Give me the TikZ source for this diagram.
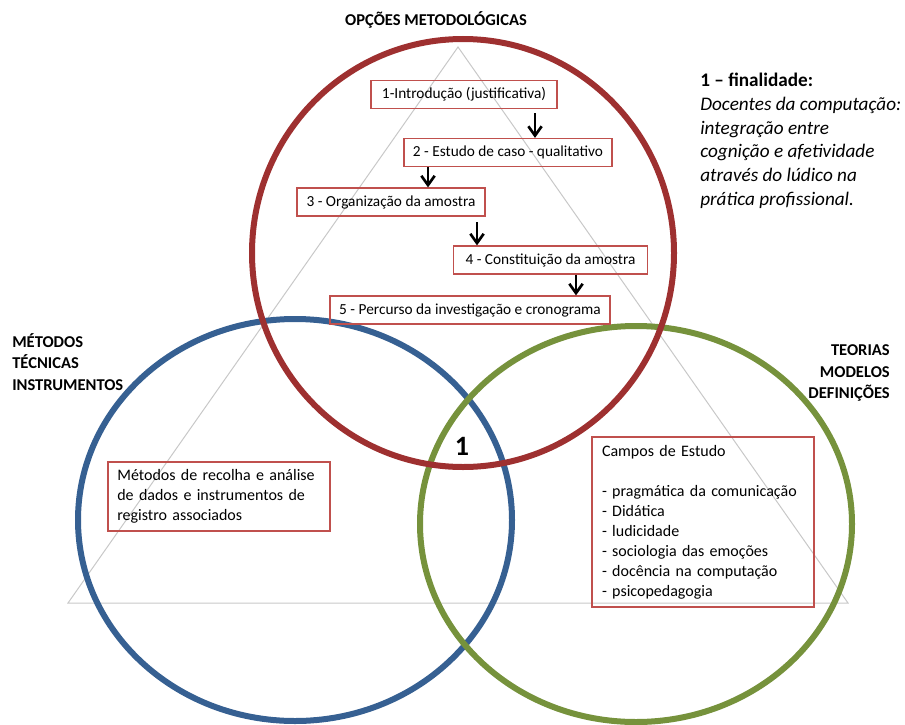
\documentclass[tikz,border=0pt]{standalone}
\usepackage{fontspec}
\setmainfont{Carlito}
\usetikzlibrary{arrows.meta}
\tikzset{
ring/.style={line width=4.5pt},
stepbox/.style={draw={rgb, 255:red, 192; green, 80; blue, 77 }, line width=0.9pt, inner sep=0pt, minimum height=21pt, font=\fontsize{11.5}{14}\selectfont},
infobox/.style={draw={rgb, 255:red, 192; green, 80; blue, 77 }, line width=0.9pt, inner ysep=0pt, align=left, font=\fontsize{12}{15}\selectfont},
flow/.style={line width=2pt, -{Straight Barb[length=7pt,width=10pt]}},
heading/.style={font=\bfseries\fontsize{12.4}{16}\selectfont, inner sep=0pt}
}
\begin{document}
\begin{tikzpicture}[x=0.75pt,y=0.75pt,yscale=-1,xscale=1]
\useasboundingbox (0,0) rectangle (905,724);

%Shape: Triangle
\draw [color={rgb, 255:red, 200; green, 200; blue, 200 }, line width=0.75] (458,47) -- (848,603) -- (68,603) -- cycle ;

%Shape: Circle (metodos)
\draw [ring, color={rgb, 255:red, 54; green, 96; blue, 146 }] (295,520) ellipse [x radius=217, y radius=201] ;
%Shape: Circle (teorias)
\draw [ring, color={rgb, 255:red, 118; green, 146; blue, 60 }] (636,524) ellipse [x radius=216, y radius=198] ;
%Shape: Circle (opcoes)
\draw [ring, color={rgb, 255:red, 158; green, 48; blue, 48 }] (463,253) ellipse [x radius=211, y radius=214] ;

%Steps
\node [stepbox, minimum width=139.5pt] (intro) at (464,94.5) {1-Introdução (justificativa)};
\node [stepbox, minimum width=156pt] (caso) at (508,152.5) {2 - Estudo de caso - qualitativo};
\node [stepbox, minimum width=141pt] (organiza) at (391,202) {3 - Organização da amostra};
\node [stepbox, minimum width=146pt] (constitui) at (550.5,260) {4 - Constituição da amostra};
\node [stepbox, minimum width=210pt] (percurso) at (470,310) {5 - Percurso da investigação e cronograma};

%Arrows
\coordinate (a1) at (535,113);
\coordinate (a3) at (477,222);
\draw [flow] (a1) -- (a1 |- caso.north) ;
\draw [flow] (caso.south -| 428,0) -- (organiza.north -| 428,0) ;
\draw [flow] (a3) -- (a3 |- constitui.north) ;
\draw [flow] (constitui.south -| 576,0) -- (percurso.north -| 576,0) ;

%Boxes
\node [infobox, inner xsep=7pt, text width=152.5pt, minimum height=51.75pt] (recolha) at (219,496.5) {Métodos de recolha e análise\\de dados e instrumentos de\\registro associados};
\node [infobox, inner xsep=7.5pt, text width=151.5pt, minimum height=127.5pt] (campos) at (703,522) {Campos de Estudo\\[15pt]- pragmática da comunicação\\- Didática\\- ludicidade\\- sociologia das emoções\\- docência na computação\\- psicopedagogia};

%Labels
\node [heading] (opcoes) at (436,20) {OPÇÕES METODOLÓGICAS};
\node [heading, align=left, anchor=west] (metodos) at (12,362) {MÉTODOS\\TÉCNICAS\\INSTRUMENTOS};
\node [heading, align=right, anchor=east] (teorias) at (890,373) {TEORIAS\\MODELOS\\DEFINIÇÕES};
\node [font=\bfseries\fontsize{21}{21}\selectfont, inner sep=0pt] (um) at (462,446) {1};
\node [align=left, anchor=north west, inner sep=0pt, font=\fontsize{14.4}{17.8}\selectfont] (finalidade) at (700,73) {\textbf{1 – finalidade:}\\\textit{Docentes da computação:}\\\textit{integração entre}\\\textit{cognição e afetividade}\\\textit{através do lúdico na}\\\textit{prática profissional.}};

\end{tikzpicture}
\end{document}
